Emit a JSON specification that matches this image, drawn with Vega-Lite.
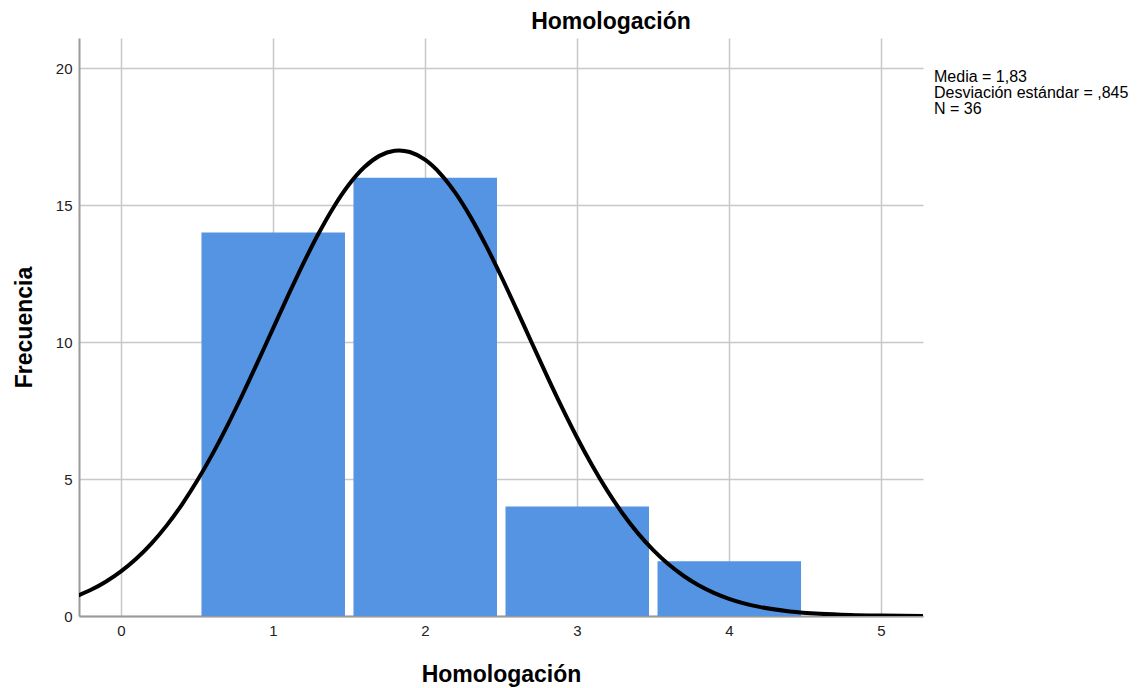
{
  "$schema": "https://vega.github.io/schema/vega-lite/v6.json",
  "width": 844,
  "height": 578,
  "autosize": {"type": "none"},
  "padding": {"left": 79, "top": 38, "right": 215, "bottom": 72},
  "background": "white",
  "title": {
    "text": "Homologación",
    "font": "Liberation Sans",
    "fontSize": 23,
    "fontWeight": "bold",
    "color": "#000000",
    "anchor": "middle",
    "dx": 110,
    "offset": 4
  },
  "config": {
    "view": {"stroke": null},
    "font": "Liberation Sans",
    "axis": {
      "labelFont": "Liberation Sans",
      "titleFont": "Liberation Sans",
      "labelFontSize": 15,
      "labelColor": "#222222",
      "titleFontSize": 23,
      "titleFontWeight": "bold",
      "titleColor": "#000000",
      "gridColor": "#C8C8C8",
      "gridWidth": 1.5,
      "domainColor": "#9A9A9A",
      "domainWidth": 2,
      "ticks": false,
      "tickSize": 0
    }
  },
  "layer": [
    {
      "data": {
        "values": [
          {"lower": 0.5, "upper": 1.5, "frecuencia": 14},
          {"lower": 1.5, "upper": 2.5, "frecuencia": 16},
          {"lower": 2.5, "upper": 3.5, "frecuencia": 4},
          {"lower": 3.5, "upper": 4.5, "frecuencia": 2}
        ]
      },
      "mark": {"type": "bar", "color": "#5594E3", "xOffset": 4.5, "x2Offset": -4},
      "encoding": {
        "x": {
          "field": "lower",
          "type": "quantitative",
          "scale": {"domain": [-0.276, 5.276], "nice": false, "zero": false},
          "axis": {
            "title": "Homologación",
            "values": [0, 1, 2, 3, 4, 5],
            "format": "d",
            "labelPadding": 7,
            "titlePadding": 25,
            "grid": true
          }
        },
        "x2": {"field": "upper"},
        "y": {
          "field": "frecuencia",
          "type": "quantitative",
          "scale": {"domain": [0, 21.1], "nice": false},
          "axis": {
            "title": "Frecuencia",
            "values": [0, 5, 10, 15, 20],
            "labelPadding": 7,
            "titlePadding": 19,
            "grid": true
          }
        },
        "y2": {"datum": 0}
      }
    },
    {
      "data": {
        "values": [
          {"valor": -0.28, "frecuencia": 0.752},
          {"valor": -0.2, "frecuencia": 0.949},
          {"valor": -0.1, "frecuencia": 1.252},
          {"valor": 0.0, "frecuencia": 1.629},
          {"valor": 0.1, "frecuencia": 2.090},
          {"valor": 0.2, "frecuencia": 2.645},
          {"valor": 0.3, "frecuencia": 3.299},
          {"valor": 0.4, "frecuencia": 4.060},
          {"valor": 0.5, "frecuencia": 4.925},
          {"valor": 0.6, "frecuencia": 5.892},
          {"valor": 0.7, "frecuencia": 6.951},
          {"valor": 0.8, "frecuencia": 8.086},
          {"valor": 0.9, "frecuencia": 9.275},
          {"valor": 1.0, "frecuencia": 10.492},
          {"valor": 1.1, "frecuencia": 11.703},
          {"valor": 1.2, "frecuencia": 12.873},
          {"valor": 1.3, "frecuencia": 13.962},
          {"valor": 1.4, "frecuencia": 14.933},
          {"valor": 1.5, "frecuencia": 15.749},
          {"valor": 1.6, "frecuencia": 16.379},
          {"valor": 1.7, "frecuencia": 16.797},
          {"valor": 1.8, "frecuencia": 16.986},
          {"valor": 1.83, "frecuencia": 16.997},
          {"valor": 1.9, "frecuencia": 16.939},
          {"valor": 2.0, "frecuencia": 16.656},
          {"valor": 2.1, "frecuencia": 16.151},
          {"valor": 2.2, "frecuencia": 15.443},
          {"valor": 2.3, "frecuencia": 14.561},
          {"valor": 2.4, "frecuencia": 13.538},
          {"valor": 2.5, "frecuencia": 12.412},
          {"valor": 2.6, "frecuencia": 11.222},
          {"valor": 2.7, "frecuencia": 10.004},
          {"valor": 2.8, "frecuencia": 8.795},
          {"valor": 2.9, "frecuencia": 7.624},
          {"valor": 3.0, "frecuencia": 6.517},
          {"valor": 3.1, "frecuencia": 5.494},
          {"valor": 3.2, "frecuencia": 4.566},
          {"valor": 3.3, "frecuencia": 3.743},
          {"valor": 3.4, "frecuencia": 3.025},
          {"valor": 3.5, "frecuencia": 2.412},
          {"valor": 3.6, "frecuencia": 1.895},
          {"valor": 3.7, "frecuencia": 1.469},
          {"valor": 3.8, "frecuencia": 1.122},
          {"valor": 3.9, "frecuencia": 0.846},
          {"valor": 4.0, "frecuencia": 0.629},
          {"valor": 4.2, "frecuencia": 0.333},
          {"valor": 4.4, "frecuencia": 0.167},
          {"valor": 4.6, "frecuencia": 0.079},
          {"valor": 4.8, "frecuencia": 0.035},
          {"valor": 5.0, "frecuencia": 0.015},
          {"valor": 5.28, "frecuencia": 0.004}
        ]
      },
      "mark": {"type": "line", "color": "#000000", "strokeWidth": 4, "interpolate": "monotone", "clip": true},
      "encoding": {
        "x": {"field": "valor", "type": "quantitative"},
        "y": {"field": "frecuencia", "type": "quantitative"}
      }
    },
    {
      "data": {
        "values": [
          {"estadistico": "Media = 1,83"},
          {"estadistico": "Desviación estándar = ,845"},
          {"estadistico": "N = 36"}
        ]
      },
      "mark": {"type": "point", "opacity": 0},
      "encoding": {
        "color": {
          "field": "estadistico",
          "type": "nominal",
          "scale": {
            "domain": ["Media = 1,83", "Desviación estándar = ,845", "N = 36"],
            "range": ["#ffffff", "#ffffff", "#ffffff"]
          },
          "legend": {
            "title": null,
            "orient": "none",
            "legendX": 839,
            "legendY": 31,
            "padding": 0,
            "symbolSize": 0,
            "symbolOpacity": 0,
            "symbolStrokeWidth": 0,
            "labelOffset": 0,
            "labelFont": "Liberation Sans",
            "labelFontSize": 16,
            "labelColor": "#000000",
            "rowPadding": 0,
            "labelLimit": 300
          }
        }
      }
    }
  ]
}
